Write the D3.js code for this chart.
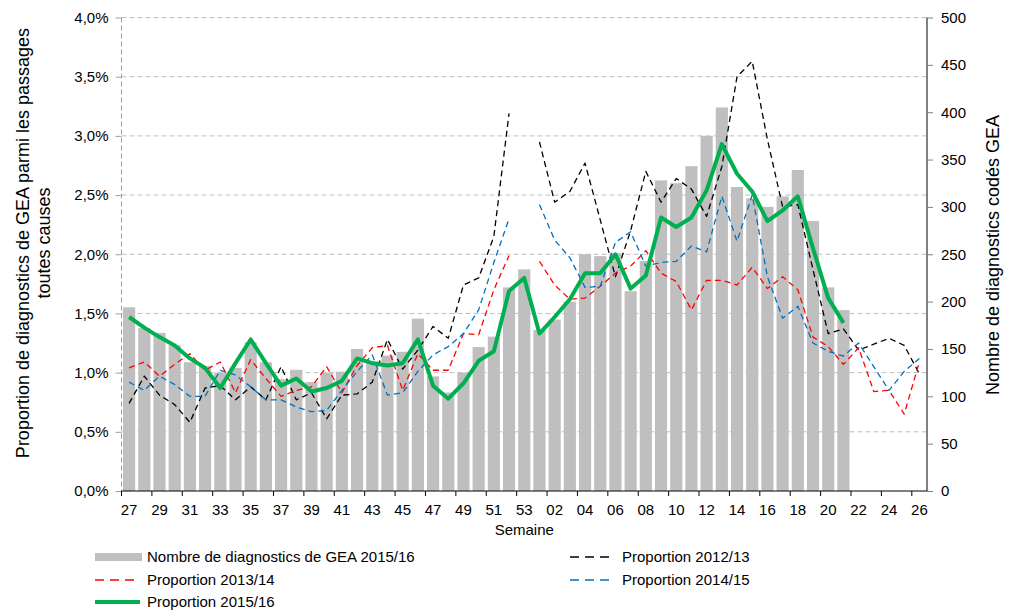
<!DOCTYPE html>
<html>
<head>
<meta charset="utf-8">
<script src="https://cdn.jsdelivr.net/npm/d3@7"></script>
<style>
  body { margin: 0; background: #fff; }
  text { font-family: "Liberation Sans", Arial, sans-serif; fill: #000; }
</style>
</head>
<body>
<div id="chart"></div>
<script>
// weeks of the season (27 -> 53, then 01 -> 26)
var weeks = ["27","28","29","30","31","32","33","34","35","36","37","38","39","40","41","42","43","44","45","46","47","48","49","50","51","52","53",
  "01","02","03","04","05","06","07","08","09","10","11","12","13","14","15","16","17","18","19","20","21","22","23","24","25","26"];

// number of GEA diagnoses 2015/16 (right axis)
var count1516 = [194,172,167,154,136,132,125,130,157,136,118,128,115,125,126,150,137,143,147,182,121,104,125,152,163,215,234,
  170,181,200,250,248,251,211,243,328,325,343,375,405,321,309,300,311,339,285,215,191,null,null,null,null,null];

// proportions (%) by season (left axis)
var prop1213 = [0.74,0.97,0.81,0.73,0.58,0.87,0.89,0.77,0.88,0.77,1.05,0.77,0.83,0.61,0.81,0.82,0.92,1.28,1.03,1.19,1.39,1.29,1.74,1.80,2.15,3.19,null,
  2.95,2.44,2.53,2.77,2.29,1.81,2.20,2.70,2.44,2.64,2.55,2.32,2.74,3.50,3.63,2.97,2.40,2.42,1.87,1.33,1.37,1.19,1.24,1.29,1.23,0.99];
var prop1314 = [1.04,1.09,0.97,1.07,1.16,1.02,1.09,0.83,1.11,0.95,0.80,0.85,0.88,1.05,0.83,1.06,1.21,1.23,0.85,1.16,1.02,1.02,1.33,1.32,1.70,1.99,null,
  1.94,1.74,1.62,1.63,1.73,1.84,1.90,2.03,1.84,1.77,1.53,1.78,1.78,1.74,1.89,1.71,1.81,1.70,1.30,1.22,1.07,1.21,0.84,0.85,0.65,1.09];
var prop1415 = [0.92,0.85,0.97,0.90,0.80,0.80,1.02,0.98,0.88,0.77,0.77,0.71,0.67,0.68,0.85,1.01,1.15,0.81,0.83,1.01,1.15,1.22,1.33,1.53,1.93,2.30,null,
  2.42,2.12,1.97,1.72,1.73,2.10,2.19,1.90,1.93,1.94,2.07,2.02,2.49,2.11,2.50,1.81,1.46,1.56,1.25,1.18,1.14,1.25,1.05,0.85,1.01,1.12];
var prop1516 = [1.47,1.38,1.30,1.23,1.12,1.04,0.87,1.08,1.28,1.08,0.89,0.95,0.84,0.87,0.93,1.12,1.08,1.06,1.08,1.28,0.89,0.78,0.91,1.10,1.18,1.69,1.80,
  1.33,1.47,1.62,1.84,1.84,2.00,1.71,1.82,2.31,2.23,2.31,2.54,2.93,2.68,2.53,2.28,2.37,2.49,2.05,1.63,1.42,null,null,null,null,null];

var leftTicks = [0, 0.5, 1, 1.5, 2, 2.5, 3, 3.5, 4];
var rightTicks = [0, 50, 100, 150, 200, 250, 300, 350, 400, 450, 500];

var svgWidth = 1012, svgHeight = 612;
var margin = { top: 17.5, left: 121.5, right: 85, bottom: 121 };
var width = svgWidth - margin.left - margin.right;
var height = svgHeight - margin.top - margin.bottom;

var svg = d3.select("#chart").append("svg")
  .attr("width", svgWidth)
  .attr("height", svgHeight);

var chartGroup = svg.append("g")
  .attr("transform", `translate(${margin.left}, ${margin.top})`);

// scales
var x = d3.scaleBand().domain(weeks).range([0, width]).paddingInner(0.2).paddingOuter(0.1);
var xc = d3.scaleBand().domain(weeks).range([0, width]);
var yLeft = d3.scaleLinear().domain([0, 4]).range([height, 0]);
var yRight = d3.scaleLinear().domain([0, 500]).range([height, 0]);

function fmtPct(v) {
  return v.toFixed(1).replace(".", ",") + "%";
}

// gridlines
chartGroup.append("g")
  .selectAll("line")
  .data(leftTicks.filter(d => d > 0))
  .enter()
  .append("line")
  .attr("x1", 0)
  .attr("x2", width)
  .attr("y1", d => yLeft(d))
  .attr("y2", d => yLeft(d))
  .attr("stroke", "#c0c0c0")
  .attr("stroke-width", 1)
  .attr("stroke-dasharray", "5,3");

// bars
chartGroup.append("g")
  .selectAll("rect")
  .data(weeks.map((w, i) => ({ w: w, v: count1516[i] })).filter(d => d.v != null))
  .enter()
  .append("rect")
  .attr("x", d => x(d.w))
  .attr("y", d => yRight(d.v))
  .attr("width", x.bandwidth())
  .attr("height", d => height - yRight(d.v))
  .attr("fill", "#bfbfbf");

// left axis (dashed grey line like the gridlines)
var leftAxis = d3.axisLeft(yLeft).tickValues(leftTicks).tickFormat(fmtPct).tickSize(6).tickPadding(7);
var yAxisG = chartGroup.append("g").call(leftAxis);
yAxisG.select(".domain").remove();
yAxisG.selectAll(".tick line").attr("stroke", "#a0a0a0");
yAxisG.selectAll("text").style("font-size", "15px").attr("fill", "#000");
chartGroup.append("line")
  .attr("x1", 0).attr("x2", 0).attr("y1", 0).attr("y2", height)
  .attr("stroke", "#a0a0a0")
  .attr("stroke-dasharray", "5,3");

// right axis
var rightAxis = d3.axisRight(yRight).tickValues(rightTicks).tickSize(6).tickPadding(8);
var yAxisR = chartGroup.append("g")
  .attr("transform", `translate(${width}, 0)`)
  .call(rightAxis);
yAxisR.select(".domain").attr("stroke", "#808080").attr("stroke-width", 2).attr("d", `M0,0V${height}`);
yAxisR.selectAll(".tick line").attr("stroke", "#808080");
yAxisR.selectAll("text").style("font-size", "15px").attr("fill", "#000");

// x axis: labels every other week, ticks between categories
var xAxisG = chartGroup.append("g").attr("transform", `translate(0, ${height})`);
xAxisG.append("line")
  .attr("x1", 0).attr("x2", width)
  .attr("stroke", "#000").attr("stroke-width", 1);
xAxisG.selectAll(".xtick")
  .data(weeks.filter((w, i) => i % 2 === 0))
  .enter()
  .append("line")
  .attr("x1", d => xc(d))
  .attr("x2", d => xc(d))
  .attr("y1", 0)
  .attr("y2", 5)
  .attr("stroke", "#000");
xAxisG.selectAll(".xlab")
  .data(weeks.filter((w, i) => i % 2 === 0))
  .enter()
  .append("text")
  .attr("x", d => xc(d) + xc.bandwidth() / 2)
  .attr("y", 24)
  .attr("text-anchor", "middle")
  .style("font-size", "15px")
  .text(d => d);

chartGroup.append("text")
  .attr("x", width / 2)
  .attr("y", height + 44)
  .attr("text-anchor", "middle")
  .style("font-size", "15px")
  .text("Semaine");

// lines
var line = d3.line()
  .defined(d => d.v != null)
  .x(d => xc(d.w) + xc.bandwidth() / 2)
  .y(d => yLeft(d.v));

var series = [
  { data: prop1213, color: "#000000", width: 1.3, dash: "6,4" },
  { data: prop1314, color: "#ff0000", width: 1.3, dash: "6,4" },
  { data: prop1415, color: "#0070c0", width: 1.3, dash: "6,4" },
  { data: prop1516, color: "#00b050", width: 4, dash: null }
];

series.forEach(function (s) {
  chartGroup.append("path")
    .datum(weeks.map((w, i) => ({ w: w, v: s.data[i] })))
    .attr("d", line)
    .attr("fill", "none")
    .attr("stroke", s.color)
    .attr("stroke-width", s.width)
    .attr("stroke-linejoin", "round")
    .attr("stroke-dasharray", s.dash);
});

// axis titles
svg.append("text")
  .attr("transform", "translate(29, 243) rotate(-90)")
  .attr("text-anchor", "middle")
  .style("font-size", "18px")
  .text("Proportion de diagnostics de GEA parmi les passages");
svg.append("text")
  .attr("transform", "translate(50, 243) rotate(-90)")
  .attr("text-anchor", "middle")
  .style("font-size", "18px")
  .text("toutes causes");
svg.append("text")
  .attr("transform", "translate(999, 255) rotate(-90)")
  .attr("text-anchor", "middle")
  .style("font-size", "18px")
  .text("Nombre de diagnostics codés GEA");

// legend
var legendItems = [
  { label: "Nombre de diagnostics de GEA 2015/16", type: "bar", color: "#bfbfbf", x: 95, y: 557 },
  { label: "Proportion 2012/13", type: "dash", color: "#000000", x: 570, y: 557 },
  { label: "Proportion 2013/14", type: "dash", color: "#ff0000", x: 95, y: 580 },
  { label: "Proportion 2014/15", type: "dash", color: "#0070c0", x: 570, y: 580 },
  { label: "Proportion 2015/16", type: "solid", color: "#00b050", x: 95, y: 602 }
];

var legend = svg.append("g");
legendItems.forEach(function (d) {
  if (d.type === "bar") {
    legend.append("rect")
      .attr("x", d.x).attr("y", d.y - 4)
      .attr("width", 47).attr("height", 8)
      .attr("fill", d.color);
  } else {
    legend.append("line")
      .attr("x1", d.x).attr("x2", d.x + 45)
      .attr("y1", d.y).attr("y2", d.y)
      .attr("stroke", d.color)
      .attr("stroke-width", d.type === "solid" ? 4 : 1.3)
      .attr("stroke-dasharray", d.type === "dash" ? "9,6" : null);
  }
  legend.append("text")
    .attr("x", d.x + 52)
    .attr("y", d.y + 5)
    .style("font-size", "15px")
    .text(d.label);
});
</script>
</body>
</html>
